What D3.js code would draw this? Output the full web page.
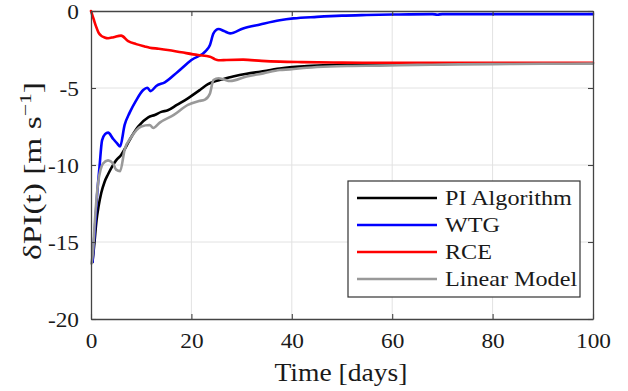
<!DOCTYPE html>
<html>
<head>
<meta charset="utf-8">
<script src="https://cdn.jsdelivr.net/npm/d3@7"></script>
<style>
  html, body { margin: 0; padding: 0; background: #fff; }
  svg { display: block; }
  text { font-family: 'Liberation Serif', 'DejaVu Serif', serif; }
</style>
</head>
<body>
<svg id="chart" width="628" height="391"></svg>
<script>
// PI Algorithm (black)
const piDays = [0.3, 0.7, 1.1, 1.5, 2.05, 2.7, 3.4, 4.2, 5.0, 6.0, 7.0, 8.0, 9.4, 11.4, 12.7, 14.0, 15.3, 17.1, 19.3, 21.7, 23.3, 24.4, 26, 28.3, 31, 33.7, 37.6, 39.6, 43, 47.6, 52, 57.6, 63, 70];
const piVals = [-16.3, -15.0, -13.6, -12.7, -11.8, -11.1, -10.6, -10.1, -9.7, -9.35, -8.8, -8.2, -7.5, -6.9, -6.75, -6.55, -6.45, -6.1, -5.67, -5.13, -4.75, -4.59, -4.45, -4.26, -4.08, -3.94, -3.74, -3.66, -3.58, -3.51, -3.47, -3.44, -3.42, -3.41];

// WTG (blue)
const wtgDays = [0.3, 0.8, 1.2, 1.7, 2.2, 2.8, 3.4, 4.4, 5.2, 5.8, 6.7, 7.7, 9.0, 10.4, 11.2, 11.9, 13.0, 14.7, 17.3, 20.0, 23.0, 23.7, 24.4, 25.4, 26.5, 27.7, 30.3, 33.7, 37.6, 40.3, 45, 50, 54.9, 60, 68, 69, 70, 80, 90, 100];
const wtgVals = [-16.3, -14.0, -12.0, -10.1, -8.4, -8.0, -7.9, -8.3, -8.6, -8.8, -7.4, -6.6, -5.8, -5.13, -4.98, -5.2, -4.87, -4.63, -3.94, -3.18, -2.55, -2.2, -1.45, -1.17, -1.3, -1.45, -1.13, -0.87, -0.6, -0.48, -0.38, -0.3, -0.26, -0.23, -0.2, -0.24, -0.2, -0.2, -0.2, -0.2];

// RCE (red)
const rceDays = [0, 0.5, 1, 1.5, 2, 2.7, 3.4, 4.5, 6, 7.4, 9, 10.7, 11.7, 13.5, 15.3, 18, 21.3, 23.7, 24.6, 25.4, 27, 30.3, 34, 37.6, 42, 50, 60, 70, 80, 90, 100];
const rceVals = [0, -0.5, -1.0, -1.4, -1.6, -1.72, -1.77, -1.7, -1.6, -1.95, -2.15, -2.3, -2.38, -2.45, -2.53, -2.68, -2.86, -2.97, -3.12, -3.2, -3.18, -3.16, -3.24, -3.29, -3.32, -3.35, -3.36, -3.36, -3.36, -3.36, -3.36];

// Linear Model (gray)
const lmDays = [0.1, 0.4, 0.8, 1.4, 1.9, 2.4, 3.4, 4.4, 5.0, 5.8, 6.7, 8.0, 10.0, 11.7, 12.4, 13.7, 16.5, 19.3, 21.5, 22.7, 23.7, 24.4, 25.4, 26.5, 27.7, 31.0, 34.3, 37.6, 39.6, 43, 47.6, 52, 57.6, 65, 70, 80, 90, 100];
const lmVals = [-16.4, -15.6, -13.5, -11.2, -10.3, -9.9, -9.7, -9.9, -10.3, -10.4, -9.0, -8.2, -7.5, -7.4, -7.6, -7.25, -6.75, -6.1, -5.85, -5.75, -5.35, -4.48, -4.37, -4.45, -4.55, -4.26, -4.05, -3.83, -3.79, -3.68, -3.6, -3.57, -3.55, -3.5, -3.48, -3.45, -3.43, -3.42];

const seriesNames = ["PI Algorithm", "WTG", "RCE", "Linear Model"];
const seriesColors = ["#000000", "#0000ff", "#ff0000", "#999999"];
const xTicks = [0, 20, 40, 60, 80, 100];
const yTicks = [0, -5, -10, -15, -20];

const series = [
  { name: seriesNames[0], color: seriesColors[0], pts: d3.zip(piDays, piVals) },
  { name: seriesNames[1], color: seriesColors[1], pts: d3.zip(wtgDays, wtgVals) },
  { name: seriesNames[2], color: seriesColors[2], pts: d3.zip(rceDays, rceVals) },
  { name: seriesNames[3], color: seriesColors[3], pts: d3.zip(lmDays, lmVals) }
];

const margin = { left: 91, top: 11, right: 35, bottom: 72 };
const W = 628, H = 391;
const iw = W - margin.left - margin.right;
const ih = H - margin.top - margin.bottom;
const font = "'Liberation Serif', 'DejaVu Serif', serif";
const axisColor = "#444";
const textColor = "#1a1a1a";

const svg = d3.select("#chart");
const g = svg.append("g").attr("transform", `translate(${margin.left},${margin.top})`);

const x = d3.scaleLinear().domain([0, 100]).range([0, iw]);
const y = d3.scaleLinear().domain([-20, 0]).range([ih, 0]);

// widen serif text a little, Computer Modern runs wider than Times
function widen(sel, k) {
  sel.each(function () {
    const w = this.getComputedTextLength();
    d3.select(this).attr("textLength", w * k).attr("lengthAdjust", "spacingAndGlyphs");
  });
}

// grid
g.append("g").selectAll("line").data(xTicks.slice(1, -1)).join("line")
  .attr("x1", d => x(d)).attr("x2", d => x(d)).attr("y1", 0).attr("y2", ih)
  .attr("stroke", "#e2e2e2").attr("stroke-width", 1);
g.append("g").selectAll("line").data(yTicks.slice(1, -1)).join("line")
  .attr("y1", d => y(d)).attr("y2", d => y(d)).attr("x1", 0).attr("x2", iw)
  .attr("stroke", "#e2e2e2").attr("stroke-width", 1);

// lines
const line = d3.line().x(d => x(d[0])).y(d => y(d[1])).curve(d3.curveMonotoneX);
g.append("g").selectAll("path").data(series).join("path")
  .attr("d", d => line(d.pts))
  .attr("fill", "none")
  .attr("stroke", d => d.color)
  .attr("stroke-width", 2.6)
  .attr("stroke-linejoin", "round")
  .attr("stroke-linecap", "round");

// axes (MATLAB box style, inward ticks)
function styleAxis(sel) {
  sel.attr("font-family", font).attr("font-size", 22);
  sel.select(".domain").attr("stroke", axisColor).attr("stroke-width", 1.3);
  sel.selectAll(".tick line").attr("stroke", axisColor).attr("stroke-width", 1.1);
  sel.selectAll(".tick text").style("font-family", font).attr("fill", textColor);
}
const xAxis = g.append("g").attr("transform", `translate(0,${ih})`)
  .call(d3.axisBottom(x).tickValues(xTicks).tickSizeInner(-5).tickSizeOuter(0).tickPadding(13).tickFormat(d3.format("d")));
styleAxis(xAxis);
widen(xAxis.selectAll(".tick text"), 1.06);
const xAxisTop = g.append("g")
  .call(d3.axisTop(x).tickValues(xTicks).tickSizeInner(-5).tickSizeOuter(0).tickFormat(""));
styleAxis(xAxisTop);
const yAxis = g.append("g")
  .call(d3.axisLeft(y).tickValues(yTicks).tickSizeInner(-5).tickSizeOuter(0).tickPadding(12).tickFormat(d => d === 0 ? "0" : "-" + Math.abs(d)));
styleAxis(yAxis);
widen(yAxis.selectAll(".tick text"), 1.06);
const yAxisRight = g.append("g").attr("transform", `translate(${iw},0)`)
  .call(d3.axisRight(y).tickValues(yTicks).tickSizeInner(-5).tickSizeOuter(0).tickFormat(""));
styleAxis(yAxisRight);

// axis labels
const xl = svg.append("text")
  .attr("x", margin.left + iw / 2 - 1).attr("y", 381)
  .attr("text-anchor", "middle")
  .attr("font-size", 25).attr("fill", textColor)
  .text("Time [days]");
xl.attr("textLength", 133).attr("lengthAdjust", "spacingAndGlyphs");

const yl = svg.append("text")
  .attr("transform", `translate(41,171) rotate(-90)`)
  .attr("text-anchor", "middle")
  .attr("font-size", 26).attr("fill", textColor);
yl.append("tspan").text("δPI(t) [m s");
yl.append("tspan").attr("dy", -10).attr("font-size", 17).text("−1");
yl.append("tspan").attr("dy", 10).text("]");
yl.attr("textLength", 178).attr("lengthAdjust", "spacingAndGlyphs");

// legend
const lg = svg.append("g").attr("transform", "translate(348,181)");
lg.append("rect").attr("width", 232).attr("height", 116)
  .attr("fill", "#fff").attr("stroke", "#333").attr("stroke-width", 1.2);
const item = lg.selectAll("g.item").data(series).join("g")
  .attr("class", "item")
  .attr("transform", (d, i) => `translate(0,${17 + i * 27})`);
item.append("line").attr("x1", 9).attr("x2", 89).attr("y1", 0).attr("y2", 0)
  .attr("stroke", d => d.color).attr("stroke-width", 2.6);
const lt = item.append("text").attr("x", 97).attr("y", 0).attr("dy", "0.35em")
  .attr("font-size", 21).attr("fill", textColor)
  .text(d => d.name);
widen(lt, 1.15);
</script>
</body>
</html>
